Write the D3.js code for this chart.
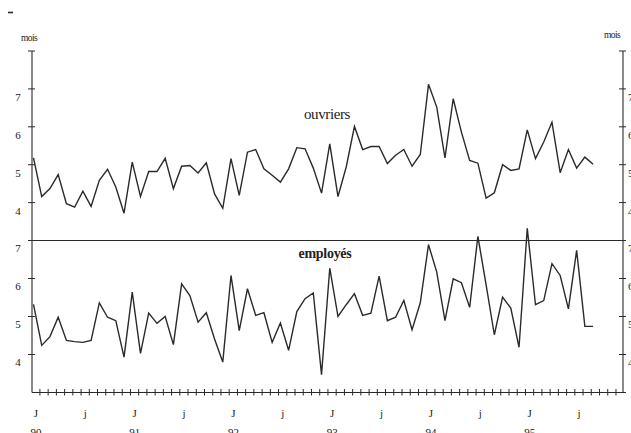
<!DOCTYPE html>
<html>
<head>
<meta charset="utf-8">
<script src="https://cdn.jsdelivr.net/npm/d3@7"></script>
<style>
  body { margin: 0; background: #fff; }
  svg { display: block; }
  text { font-family: "Liberation Serif", "DejaVu Serif", serif; fill: #222; }
</style>
</head>
<body>
<div id="chart"></div>
<script>
// durée moyenne (mois), janvier 1990 -> septembre 1995
var ouvriers = [5.18, 4.16, 4.37, 4.74, 3.97, 3.88, 4.30, 3.90, 4.59, 4.88, 4.41, 3.72,
                5.07, 4.16, 4.82, 4.82, 5.17, 4.37, 4.96, 4.98, 4.78, 5.05, 4.23, 3.85,
                5.16, 4.19, 5.33, 5.40, 4.89, 4.72, 4.54, 4.89, 5.45, 5.42, 4.91, 4.25,
                5.55, 4.16, 4.94, 6.01, 5.40, 5.48, 5.48, 5.03, 5.25, 5.40, 4.96, 5.27,
                7.12, 6.52, 5.18, 6.74, 5.86, 5.11, 5.04, 4.12, 4.26, 5.00, 4.85, 4.89,
                5.92, 5.16, 5.60, 6.12, 4.79, 5.40, 4.91, 5.20, 5.01];
var employes = [5.32, 4.24, 4.47, 4.98, 4.37, 4.34, 4.32, 4.37, 5.36, 4.98, 4.89, 3.93,
                5.64, 4.03, 5.09, 4.82, 5.00, 4.26, 5.86, 5.55, 4.85, 5.10, 4.41, 3.80,
                6.08, 4.63, 5.73, 5.03, 5.10, 4.32, 4.83, 4.11, 5.13, 5.47, 5.62, 3.47,
                6.27, 5.00, 5.31, 5.60, 5.03, 5.09, 6.06, 4.89, 4.98, 5.42, 4.65, 5.36,
                6.89, 6.17, 4.89, 5.99, 5.89, 5.24, 7.11, 5.83, 4.52, 5.51, 5.22, 4.19,
                7.32, 5.31, 5.42, 6.39, 6.08, 5.20, 6.74, 4.74, 4.74];
var xLabelMonths = [0, 6, 12, 18, 24, 30, 36, 42, 48, 54, 60, 66];
var xLabels = ["J", "j", "J", "j", "J", "j", "J", "j", "J", "j", "J", "j"];
var yearLabels = ["90", "", "91", "", "92", "", "93", "", "94", "", "95", ""];
var yTicksHaut = [4, 5, 6, 7, 8];
var yLabelsHaut = [4, 5, 6, 7];
var yTicksBas = [4, 5, 6, 7];
var nbMois = 71;

var W = 631, H = 433;
var axeG = 32, axeD = 623;
var svg = d3.select("#chart").append("svg")
            .attr("width", W)
            .attr("height", H);

var x = d3.scaleLinear().domain([0, 68]).range([33.5, 593.1]);
var yHaut = d3.scaleLinear().domain([3, 8]).range([240.5, 51]);
var yBas = d3.scaleLinear().domain([3, 7]).range([392.5, 240.5]);

var ink = "#2a2a2a";

// petit trait en haut a gauche (scan)
svg.append("line")
   .attr("x1", 8).attr("x2", 13).attr("y1", 12.5).attr("y2", 12.5)
   .style("stroke", ink).style("stroke-width", 1.6);

//axes verticaux
[axeG, axeD].forEach(function (ax) {
	svg.append("line")
	   .attr("x1", ax).attr("x2", ax)
	   .attr("y1", yHaut(8)).attr("y2", yBas(3))
	   .style("stroke", ink).style("stroke-width", 1.1);
	yTicksHaut.forEach(function (v) {
		svg.append("line")
		   .attr("x1", ax - 4).attr("x2", ax + 3)
		   .attr("y1", yHaut(v)).attr("y2", yHaut(v))
		   .style("stroke", ink).style("stroke-width", 1);
	});
	yTicksBas.forEach(function (v) {
		svg.append("line")
		   .attr("x1", ax - 4).attr("x2", ax + 3)
		   .attr("y1", yBas(v)).attr("y2", yBas(v))
		   .style("stroke", ink).style("stroke-width", 1);
	});
});

// libelles y
yLabelsHaut.forEach(function (v) {
	svg.append("text").attr("x", 18).attr("y", yHaut(v) + 12)
	   .attr("text-anchor", "middle").style("font-size", "11px").text(v);
	svg.append("text").attr("x", axeD + 5).attr("y", yHaut(v) + 12)
	   .attr("text-anchor", "start").style("font-size", "11px").text(v);
});
yTicksBas.forEach(function (v) {
	svg.append("text").attr("x", 18).attr("y", yBas(v) + 11)
	   .attr("text-anchor", "middle").style("font-size", "11px").text(v);
	svg.append("text").attr("x", axeD + 5).attr("y", yBas(v) + 11)
	   .attr("text-anchor", "start").style("font-size", "11px").text(v);
});
svg.append("text").attr("x", 29).attr("y", 41)
   .attr("text-anchor", "middle").style("font-size", "9.5px")
   .style("letter-spacing", "-0.6px").text("mois");
svg.append("text").attr("x", 612).attr("y", 38)
   .attr("text-anchor", "middle").style("font-size", "9.5px")
   .style("letter-spacing", "-0.6px").text("mois");

// ligne de separation
svg.append("line")
   .attr("x1", axeG).attr("x2", axeD)
   .attr("y1", yBas(7)).attr("y2", yBas(7))
   .style("stroke", ink).style("stroke-width", 1.2);

//axe des temps
svg.append("line")
   .attr("x1", axeG).attr("x2", axeD + 3)
   .attr("y1", yBas(3)).attr("y2", yBas(3))
   .style("stroke", ink).style("stroke-width", 1.2);
svg.selectAll(".tickx")
   .data(d3.range(nbMois))
   .enter().append("line")
   .attr("class", "tickx")
   .attr("x1", function (d) { return x(d + 0.78); })
   .attr("x2", function (d) { return x(d + 0.78); })
   .attr("y1", yBas(3) - 3.5)
   .attr("y2", yBas(3) + 3)
   .style("stroke", ink).style("stroke-width", 1);

svg.selectAll(".labx")
   .data(xLabelMonths)
   .enter().append("text")
   .attr("class", "labx")
   .attr("x", function (d) { return x(d + 0.3); })
   .attr("y", 417)
   .attr("text-anchor", "middle")
   .style("font-size", "11px")
   .text(function (d, i) { return xLabels[i]; });
svg.selectAll(".laban")
   .data(xLabelMonths)
   .enter().append("text")
   .attr("class", "laban")
   .attr("x", function (d) { return x(d + 0.3); })
   .attr("y", 436)
   .attr("text-anchor", "middle")
   .style("font-size", "11px")
   .text(function (d, i) { return yearLabels[i]; });

// courbes
var ligneHaut = d3.line()
                  .x(function (d, i) { return x(i); })
                  .y(function (d) { return yHaut(d); });
var ligneBas = d3.line()
                 .x(function (d, i) { return x(i); })
                 .y(function (d) { return yBas(d); });
svg.append("path").datum(ouvriers)
   .attr("d", ligneHaut)
   .style("fill", "none").style("stroke", ink)
   .style("stroke-width", 1.4).style("stroke-linejoin", "miter");
svg.append("path").datum(employes)
   .attr("d", ligneBas)
   .style("fill", "none").style("stroke", ink)
   .style("stroke-width", 1.4).style("stroke-linejoin", "miter");

svg.append("text").attr("x", 327).attr("y", 119)
   .attr("text-anchor", "middle").style("font-size", "15px")
   .style("letter-spacing", "-0.4px").text("ouvriers");
svg.append("text").attr("x", 325).attr("y", 258)
   .attr("text-anchor", "middle").style("font-size", "14px")
   .style("font-weight", "bold").style("letter-spacing", "-0.3px").text("employés");
</script>
</body>
</html>
